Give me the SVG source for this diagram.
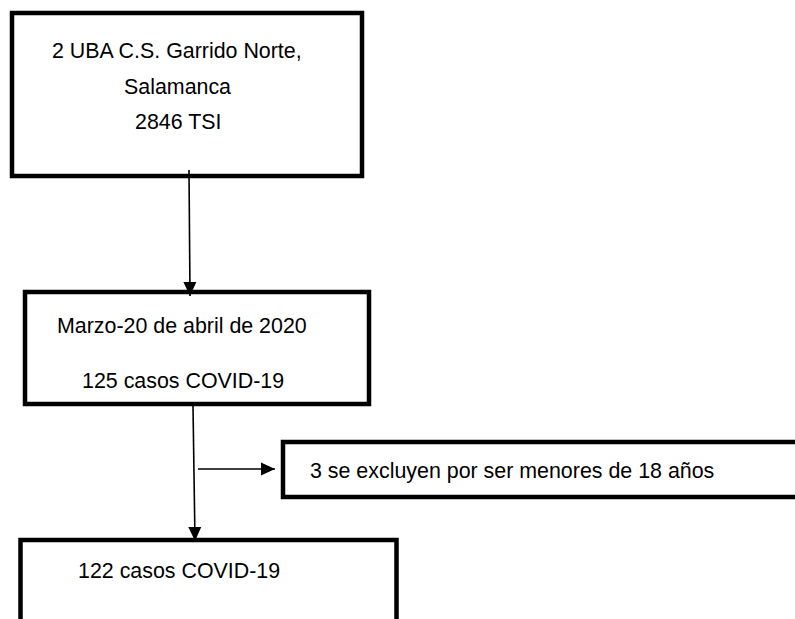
<svg xmlns="http://www.w3.org/2000/svg" width="795" height="619" viewBox="0 0 795 619">
<defs>
<marker id="ah" markerUnits="userSpaceOnUse" markerWidth="15" markerHeight="15" viewBox="0 0 15 15" refX="14" refY="7.5" orient="auto">
<polygon points="0,1 14,7.5 0,14" fill="#000"/>
</marker>
<style>
.box{fill:#fff;stroke:#000;stroke-width:4.5}
.t{font-family:"Liberation Sans",Arial,Helvetica,sans-serif;font-size:21.4px;fill:#000}
.c{stroke:#000;stroke-width:1.6;fill:none}
</style>
</defs>
<rect width="795" height="619" fill="#fff"/>
<g id="n1">
<rect class="box" x="12" y="13" width="350" height="163"/>
<text class="t" x="52" y="58">2 UBA C.S. Garrido Norte,</text>
<text class="t" x="124" y="94">Salamanca</text>
<text class="t" x="135" y="129">2846 TSI</text>
</g>
<g id="n2">
<rect class="box" x="25" y="292" width="344" height="112"/>
<text class="t" x="57" y="333">Marzo-20 de abril de 2020</text>
<text class="t" x="82" y="388">125 casos COVID-19</text>
</g>
<g id="n3">
<rect class="box" x="283" y="442" width="560" height="55"/>
<text class="t" x="310" y="478">3 se excluyen por ser menores de 18 años</text>
</g>
<g id="n4">
<rect class="box" x="20.5" y="540" width="376" height="120"/>
<text class="t" x="78" y="578">122 casos COVID-19</text>
</g>
<g id="connectors">
<line class="c" x1="189" y1="170" x2="190" y2="296" marker-end="url(#ah)"/>
<line class="c" x1="193" y1="406" x2="195" y2="541" marker-end="url(#ah)"/>
<line class="c" x1="198" y1="469" x2="275" y2="469" marker-end="url(#ah)"/>
</g>
</svg>
